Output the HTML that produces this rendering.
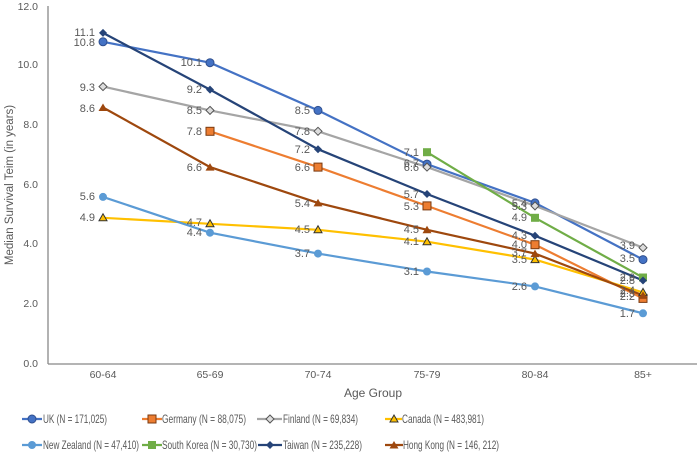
<!DOCTYPE html>
<html><head><style>body{margin:0;background:#fff}svg{display:block;font-family:"Liberation Sans",sans-serif}</style></head>
<body>
<svg width="700" height="453" viewBox="0 0 700 453" xmlns="http://www.w3.org/2000/svg" xmlns:xlink="http://www.w3.org/1999/xlink">
<defs>
<g id="mUK"><circle r="4" fill="#4472c4" stroke="#2f4f8f" stroke-width="1"/></g>
<g id="mDE"><rect x="-4" y="-4" width="8" height="8" fill="#ed7d31" stroke="#7a3a10" stroke-width="1"/></g>
<g id="mFI"><path d="M0 -4L4 0L0 4L-4 0Z" fill="#ddd" stroke="#555" stroke-width="1"/></g>
<g id="mCA"><path d="M0 -4L4 3L-4 3Z" fill="#ffc000" stroke="#333" stroke-width="1"/></g>
<g id="mNZ"><circle r="4" fill="#5b9bd5"/></g>
<g id="mSK"><rect x="-4" y="-4" width="8" height="8" fill="#70ad47"/></g>
<g id="mTW"><path d="M0 -4L4 0L0 4L-4 0Z" fill="#264478"/></g>
<g id="mHK"><path d="M0 -4L4.5 3.5L-4.5 3.5Z" fill="#9e480e"/></g>
</defs>
<g fill="#595959" font-size="10.5" text-anchor="end">
<text x="38" y="10">12.0</text><text x="38" y="68">10.0</text><text x="38" y="128">8.0</text>
<text x="38" y="188">6.0</text><text x="38" y="247">4.0</text><text x="38" y="307">2.0</text><text x="38" y="367">0.0</text>
</g>
<line x1="48" y1="6" x2="48" y2="364" stroke="#888" stroke-width="1.3"/>
<line x1="48" y1="364" x2="697" y2="364" stroke="#888" stroke-width="1.3"/>
<g fill="#595959" font-size="10.5" text-anchor="middle">
<text x="103" y="378">60-64</text><text x="210" y="378">65-69</text><text x="318" y="378">70-74</text>
<text x="427" y="378">75-79</text><text x="535" y="378">80-84</text><text x="643" y="378">85+</text>
<text x="373" y="397" font-size="12">Age Group</text>
<text transform="translate(13,185) rotate(-90)" font-size="11.5">Median Survival Teim (in years)</text>
</g>
<g fill="none" stroke-width="2.2">
<polyline stroke="#4472c4" points="103,41.8 210,62.7 318,110.4 427,164.1 535,202.9 643,259.6"/>
<polyline stroke="#ed7d31" points="210,131.3 318,167.1 427,205.9 535,244.7 643,298.4"/>
<polyline stroke="#a5a5a5" points="103,86.6 210,110.4 318,131.3 427,167.1 535,205.9 643,247.7"/>
<polyline stroke="#ffc000" points="103,217.8 210,223.8 318,229.8 427,241.7 535,259.6 643,292.4"/>
<polyline stroke="#5b9bd5" points="103,196.9 210,232.7 318,253.6 427,271.5 535,286.4 643,313.3"/>
<polyline stroke="#70ad47" points="427,152.2 535,217.8 643,277.5"/>
<polyline stroke="#264478" points="103,32.9 210,89.6 318,149.2 427,194.0 535,235.7 643,280.5"/>
<polyline stroke="#9e480e" points="103,107.5 210,167.1 318,202.9 427,229.8 535,253.6 643,295.4"/>
</g>
<use xlink:href="#mUK" x="103" y="41.8"/><use xlink:href="#mUK" x="210" y="62.7"/><use xlink:href="#mUK" x="318" y="110.4"/><use xlink:href="#mUK" x="427" y="164.1"/><use xlink:href="#mUK" x="535" y="202.9"/><use xlink:href="#mUK" x="643" y="259.6"/>
<use xlink:href="#mDE" x="210" y="131.3"/><use xlink:href="#mDE" x="318" y="167.1"/><use xlink:href="#mDE" x="427" y="205.9"/><use xlink:href="#mDE" x="535" y="244.7"/><use xlink:href="#mDE" x="643" y="298.4"/>
<use xlink:href="#mFI" x="103" y="86.6"/><use xlink:href="#mFI" x="210" y="110.4"/><use xlink:href="#mFI" x="318" y="131.3"/><use xlink:href="#mFI" x="427" y="167.1"/><use xlink:href="#mFI" x="535" y="205.9"/><use xlink:href="#mFI" x="643" y="247.7"/>
<use xlink:href="#mCA" x="103" y="217.8"/><use xlink:href="#mCA" x="210" y="223.8"/><use xlink:href="#mCA" x="318" y="229.8"/><use xlink:href="#mCA" x="427" y="241.7"/><use xlink:href="#mCA" x="535" y="259.6"/><use xlink:href="#mCA" x="643" y="292.4"/>
<use xlink:href="#mNZ" x="103" y="196.9"/><use xlink:href="#mNZ" x="210" y="232.7"/><use xlink:href="#mNZ" x="318" y="253.6"/><use xlink:href="#mNZ" x="427" y="271.5"/><use xlink:href="#mNZ" x="535" y="286.4"/><use xlink:href="#mNZ" x="643" y="313.3"/>
<use xlink:href="#mSK" x="427" y="152.2"/><use xlink:href="#mSK" x="535" y="217.8"/><use xlink:href="#mSK" x="643" y="277.5"/>
<use xlink:href="#mTW" x="103" y="32.9"/><use xlink:href="#mTW" x="210" y="89.6"/><use xlink:href="#mTW" x="318" y="149.2"/><use xlink:href="#mTW" x="427" y="194.0"/><use xlink:href="#mTW" x="535" y="235.7"/><use xlink:href="#mTW" x="643" y="280.5"/>
<use xlink:href="#mHK" x="103" y="107.5"/><use xlink:href="#mHK" x="210" y="167.1"/><use xlink:href="#mHK" x="318" y="202.9"/><use xlink:href="#mHK" x="427" y="229.8"/><use xlink:href="#mHK" x="535" y="253.6"/><use xlink:href="#mHK" x="643" y="295.4"/>
<g fill="#595959" font-size="11" text-anchor="end">
<text x="95" y="36">11.1</text><text x="95" y="46">10.8</text><text x="95" y="91">9.3</text><text x="95" y="112">8.6</text><text x="95" y="200">5.6</text><text x="95" y="221">4.9</text>
<text x="202" y="66">10.1</text><text x="202" y="93">9.2</text><text x="202" y="114">8.5</text><text x="202" y="135">7.8</text><text x="202" y="171">6.6</text><text x="202" y="226">4.7</text><text x="202" y="236">4.4</text>
<text x="310" y="114">8.5</text><text x="310" y="135">7.8</text><text x="310" y="153">7.2</text><text x="310" y="171">6.6</text><text x="310" y="207">5.4</text><text x="310" y="233">4.5</text><text x="310" y="257">3.7</text>
<text x="419" y="156">7.1</text><text x="419" y="167">6.7</text><text x="419" y="171">6.6</text><text x="419" y="198">5.7</text><text x="419" y="210">5.3</text><text x="419" y="233">4.5</text><text x="419" y="245">4.1</text><text x="419" y="275">3.1</text>
<text x="527" y="207">5.4</text><text x="527" y="210">5.3</text><text x="527" y="221">4.9</text><text x="527" y="239">4.3</text><text x="527" y="248">4.0</text><text x="527" y="256">3.7</text><text x="527" y="263">3.5</text><text x="527" y="290">2.6</text>
<text x="635" y="249">3.9</text><text x="635" y="262">3.5</text><text x="635" y="281">2.9</text><text x="635" y="284">2.8</text><text x="635" y="294">2.4</text><text x="635" y="297">2.3</text><text x="635" y="300">2.2</text><text x="635" y="317">1.7</text>
</g>
<g font-size="12" fill="#595959" stroke-width="2.2">
<line x1="22" y1="419" x2="42" y2="419" stroke="#4472c4"/><use xlink:href="#mUK" x="32" y="419"/><text x="43" y="423" textLength="64" lengthAdjust="spacingAndGlyphs">UK (N = 171,025)</text>
<line x1="142" y1="419" x2="162" y2="419" stroke="#ed7d31"/><use xlink:href="#mDE" x="152" y="419"/><text x="162" y="423" textLength="84" lengthAdjust="spacingAndGlyphs">Germany (N = 88,075)</text>
<line x1="257" y1="419" x2="282" y2="419" stroke="#a5a5a5"/><use xlink:href="#mFI" x="270" y="419"/><text x="283" y="423" textLength="75" lengthAdjust="spacingAndGlyphs">Finland (N = 69,834)</text>
<line x1="385" y1="419" x2="402" y2="419" stroke="#ffc000"/><use xlink:href="#mCA" x="394" y="419"/><text x="402" y="423" textLength="82" lengthAdjust="spacingAndGlyphs">Canada (N = 483,981)</text>
<line x1="22" y1="445" x2="42" y2="445" stroke="#5b9bd5"/><use xlink:href="#mNZ" x="32" y="445"/><text x="43" y="449" textLength="96" lengthAdjust="spacingAndGlyphs">New Zealand (N = 47,410)</text>
<line x1="142" y1="445" x2="162" y2="445" stroke="#70ad47"/><use xlink:href="#mSK" x="152" y="445"/><text x="162" y="449" textLength="95" lengthAdjust="spacingAndGlyphs">South Korea (N = 30,730)</text>
<line x1="258" y1="445" x2="282" y2="445" stroke="#264478"/><use xlink:href="#mTW" x="270" y="445"/><text x="283" y="449" textLength="79" lengthAdjust="spacingAndGlyphs">Taiwan (N = 235,228)</text>
<line x1="385" y1="445" x2="403" y2="445" stroke="#9e480e"/><use xlink:href="#mHK" x="394" y="445"/><text x="403" y="449" textLength="96" lengthAdjust="spacingAndGlyphs">Hong Kong (N = 146, 212)</text>
</g>
</svg>
</body></html>
